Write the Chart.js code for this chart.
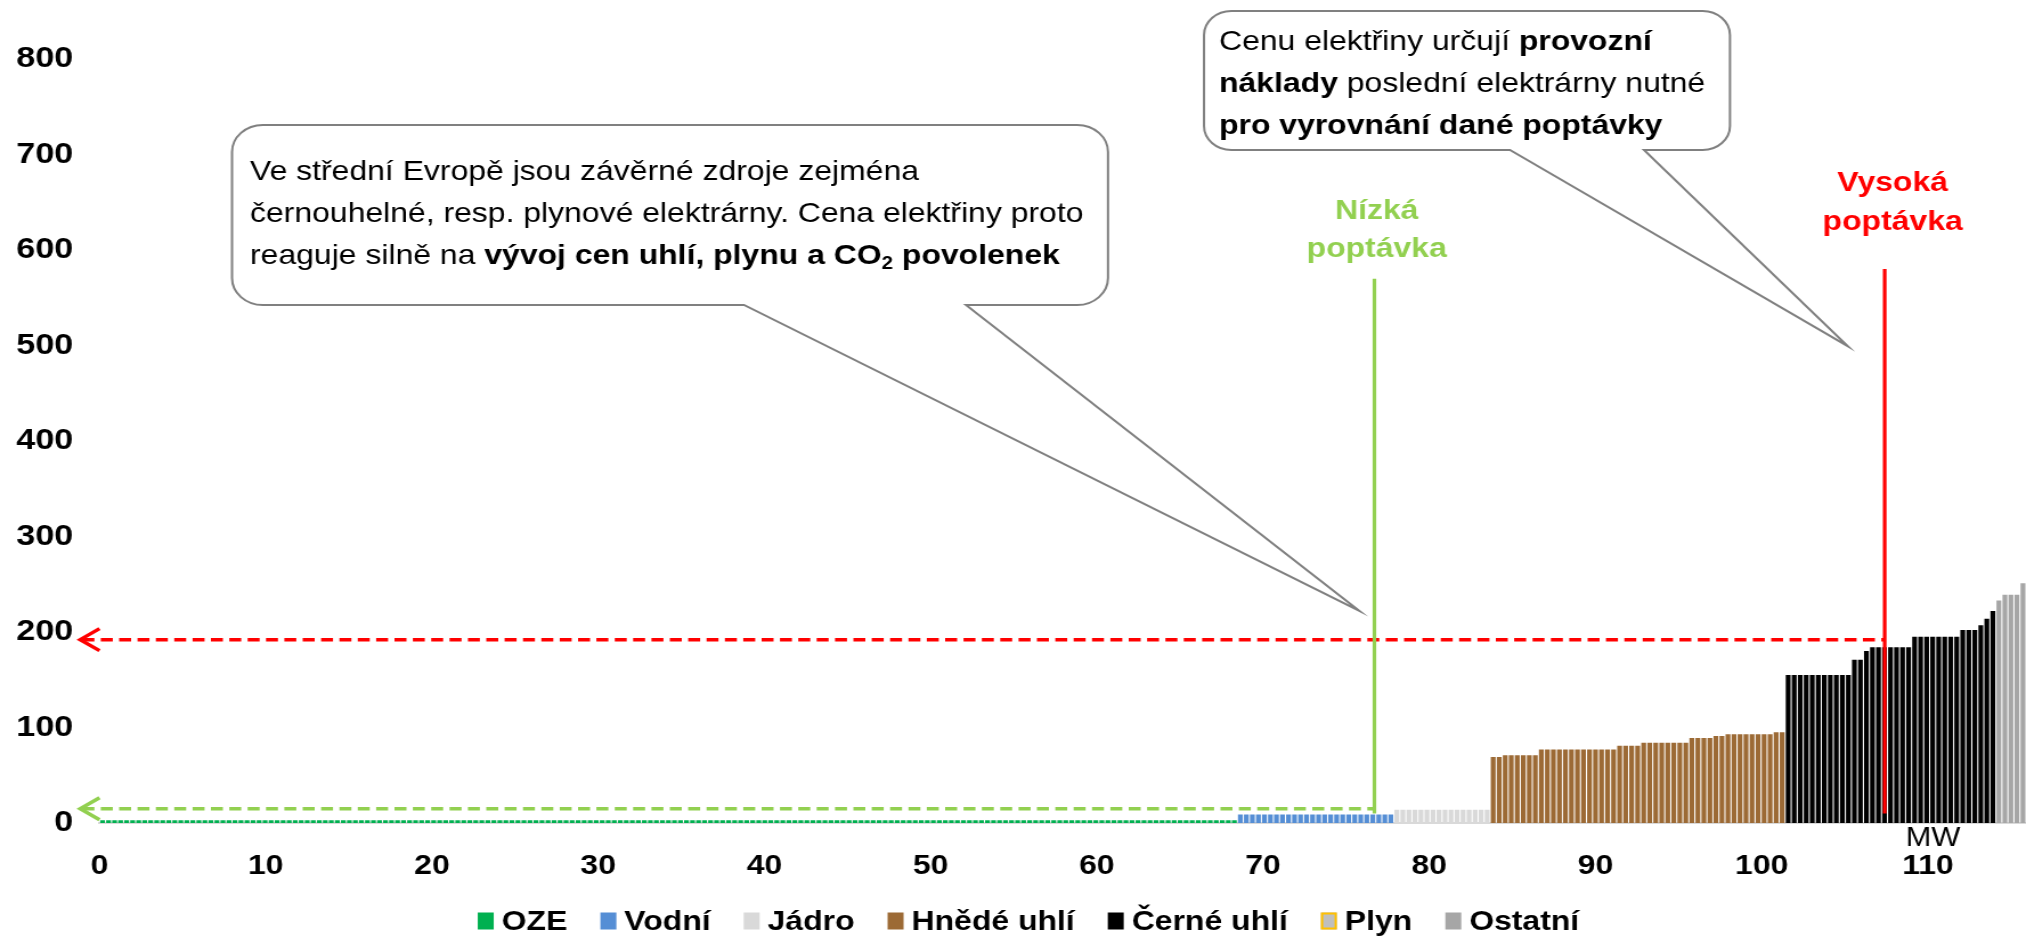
<!DOCTYPE html>
<html lang="cs">
<head>
<meta charset="utf-8">
<title>Merit order</title>
<script src="https://cdn.jsdelivr.net/npm/chart.js@4.4.1/dist/chart.umd.min.js"></script>
<style>
  html, body { margin: 0; padding: 0; background: #fff; overflow: hidden; }
  /* the source slide is stretched sideways, so the whole chart is too */
  #wrap { width: 1777px; height: 937px; transform: scaleX(1.1401); transform-origin: 0 0; }
</style>
</head>
<body>
<div id="wrap"><canvas id="meritChart"></canvas></div>
<script>
// price of each block (one bar = one block), in merit order
const ozePrices = [
  3,3,3,3,3,3,3,3,3,3,3,3,3,3,3,3,3,3,3,3,3,
  3,3,3,3,3,3,3,3,3,3,3,3,3,3,3,3,3,3,3,3,3,
  3,3,3,3,3,3,3,3,3,3,3,3,3,3,3,3,3,3,3,3,3,
  3,3,3,3,3,3,3,3,3,3,3,3,3,3,3,3,3,3,3,3,3,
  3,3,3,3,3,3,3,3,3,3,3,3,3,3,3,3,3,3,3,3,3,
  3,3,3,3,3,3,3,3,3,3,3,3,3,3,3,3,3,3,3,3,3,
  3,3,3,3,3,3,3,3,3,3,3,3,3,3,3,3,3,3,3,3,3,
  3,3,3,3,3,3,3,3,3,3,3,3,3,3,3,3,3,3,3,3,3,
  3,3,3,3,3,3,3,3,3,3,3,3,3,3,3,3,3,3,3,3,3
];
const vodniPrices = [
  9,9,9,9,9,9,9,9,9,9,9,9,9,
  9,9,9,9,9,9,9,9,9,9,9,9,9
];
const jadroPrices = [14,14,14,14,14,14,14,14,14,14,14,14,14,14,14,14];
const hnedePrices = [
  69,69,71,71,71,71,71,71,
  77,77,77,77,77,77,77,77,77,77,77,77,77,
  81,81,81,81,
  84,84,84,84,84,84,84,84,
  89,89,89,89,91,91,
  93,93,93,93,93,93,93,93,95,95
];
const cernePrices = [
  155,155,155,155,155,155,155,155,155,155,155,
  171,171,180,
  184,184,184,184,184,184,184,
  195,195,195,195,195,195,195,195,
  202,202,202,207,214,222
];
const plynPrices = [];
const ostatniPrices = [233,239,239,239,251];

const seriesNames = ['OZE', 'Vodní', 'Jádro', 'Hnědé uhlí', 'Černé uhlí', 'Plyn', 'Ostatní'];
const seriesFills = ['#00B050', '#558ED5', '#D9D9D9', '#9C6A35', '#000000', '#BFBFBF', '#A6A6A6'];

const mwMax = 115.9;
const mwStep = 10;
const priceMax = 800;
const priceStep = 100;

// demand levels and the resulting prices
const lowDemandMW = 76.7;
const highDemandMW = 107.4;
const lowPrice = 15;
const highPrice = 192;
const lowLineTop = 570;
const highLineTop = 580;
const demandLineBottom = 10;
// where the callout pointers end
const calloutTipLeft = { mw: 75.8, price: 222 };
const calloutTipRight = { mw: 105.2, price: 499 };

const FONT = '"Liberation Sans", Arial, sans-serif';
const S = 2026 / 1777; // horizontal stretch of the page

const segments = [ozePrices, vodniPrices, jadroPrices, hnedePrices, cernePrices, plynPrices, ostatniPrices];
const totalBars = segments.reduce((n, s) => n + s.length, 0);
const barLabels = Array.from({ length: totalBars }, (_, i) => String(i + 1));

let start = 0;
const datasets = segments.map((vals, k) => {
    const data = new Array(totalBars).fill(null);
    vals.forEach((v, i) => { data[start + i] = v; });
    start += vals.length;
    return {
        label: seriesNames[k],
        data: data,
        xAxisID: 'x',
        backgroundColor: seriesFills[k],
        borderColor: k === 5 ? '#FFC000' : seriesFills[k],
        borderWidth: k === 5 ? 2 : 0,
        grouped: false,
        barPercentage: 0.8,
        categoryPercentage: 1
    };
});

function drawRich(ctx, parts, x, y, size) {
    parts.forEach(p => {
        const sz = p.sub ? Math.round(size * 0.65) : size;
        ctx.font = (p.b ? 'bold ' : '') + sz + 'px ' + FONT;
        ctx.fillText(p.t, x, y + (p.sub ? size * 0.28 : 0));
        x += ctx.measureText(p.t).width;
    });
}

function callout(ctx, l, t, r, b, rad, baseA, baseB, tip) {
    ctx.beginPath();
    ctx.moveTo(l + rad, t);
    ctx.lineTo(r - rad, t);
    ctx.arcTo(r, t, r, t + rad, rad);
    ctx.lineTo(r, b - rad);
    ctx.arcTo(r, b, r - rad, b, rad);
    ctx.lineTo(baseB, b);
    ctx.lineTo(tip.x, tip.y);
    ctx.lineTo(baseA, b);
    ctx.lineTo(l + rad, b);
    ctx.arcTo(l, b, l, b - rad, rad);
    ctx.lineTo(l, t + rad);
    ctx.arcTo(l, t, l + rad, t, rad);
    ctx.closePath();
    ctx.fillStyle = '#ffffff';
    ctx.fill();
    ctx.lineWidth = 2;
    ctx.strokeStyle = '#808080';
    ctx.stroke();
}

function arrowLine(ctx, x0, x1, yv, color) {
    ctx.save();
    ctx.strokeStyle = color;
    ctx.lineWidth = 3.5;
    ctx.setLineDash([10.5, 5.6]);
    ctx.beginPath();
    ctx.moveTo(x0 + 2, yv);
    ctx.lineTo(x1, yv);
    ctx.stroke();
    ctx.setLineDash([]);
    ctx.beginPath();
    ctx.moveTo(x0 + 17, yv - 11);
    ctx.lineTo(x0, yv);
    ctx.lineTo(x0 + 17, yv + 11);
    ctx.stroke();
    ctx.restore();
}

const overlay = {
    id: 'overlay',
    afterDatasetsDraw(chart) {
        const { ctx, chartArea } = chart;
        const mw = chart.scales.mw;
        const y = chart.scales.y;
        const arrowX = chartArea.left - 17;

        // price arrows
        const gx = mw.getPixelForValue(lowDemandMW);
        const rx = mw.getPixelForValue(highDemandMW);
        arrowLine(ctx, arrowX, gx, y.getPixelForValue(lowPrice), '#92D050');
        arrowLine(ctx, arrowX, rx, y.getPixelForValue(highPrice), '#FF0000');

        // demand lines
        ctx.save();
        ctx.lineWidth = 3.2;
        ctx.strokeStyle = '#92D050';
        ctx.beginPath();
        ctx.moveTo(gx, y.getPixelForValue(lowLineTop));
        ctx.lineTo(gx, y.getPixelForValue(demandLineBottom));
        ctx.stroke();
        ctx.strokeStyle = '#FF0000';
        ctx.beginPath();
        ctx.moveTo(rx, y.getPixelForValue(highLineTop));
        ctx.lineTo(rx, y.getPixelForValue(demandLineBottom));
        ctx.stroke();

        ctx.textAlign = 'center';
        ctx.textBaseline = 'middle';
        ctx.font = 'bold 28px ' + FONT;
        const gTop = y.getPixelForValue(lowLineTop);
        ctx.fillStyle = '#92D050';
        ctx.fillText('Nízká', gx + 2, gTop - 67);
        ctx.fillText('poptávka', gx + 2, gTop - 29);
        const rTop = y.getPixelForValue(highLineTop);
        ctx.fillStyle = '#FF0000';
        ctx.fillText('Vysoká', rx + 7, rTop - 86);
        ctx.fillText('poptávka', rx + 7, rTop - 47);

        // axis unit
        ctx.fillStyle = '#000';
        ctx.font = '27px ' + FONT;
        ctx.fillText('MW', 1933 / S, 839);
        ctx.restore();

        // callouts
        ctx.save();
        const tipL = { x: mw.getPixelForValue(calloutTipLeft.mw), y: y.getPixelForValue(calloutTipLeft.price) };
        const tipR = { x: mw.getPixelForValue(calloutTipRight.mw), y: y.getPixelForValue(calloutTipRight.price) };
        callout(ctx, 232 / S, 125, 1108 / S, 305, 27, 744 / S, 966 / S, tipL);
        callout(ctx, 1204 / S, 11, 1730 / S, 150, 24, 1510 / S, 1644 / S, tipR);

        ctx.fillStyle = '#000';
        ctx.textAlign = 'left';
        ctx.textBaseline = 'middle';
        const fs = 28;
        const lx = 250 / S;
        drawRich(ctx, [{ t: 'Ve střední Evropě jsou závěrné zdroje zejména' }], lx, 172, fs);
        drawRich(ctx, [{ t: 'černouhelné, resp. plynové elektrárny. Cena elektřiny proto' }], lx, 214, fs);
        drawRich(ctx, [
            { t: 'reaguje silně na ' },
            { t: 'vývoj cen uhlí, plynu a CO', b: true },
            { t: '2', b: true, sub: true },
            { t: ' povolenek', b: true }
        ], lx, 256, fs);
        const rxText = 1219 / S;
        drawRich(ctx, [{ t: 'Cenu elektřiny určují ' }, { t: 'provozní', b: true }], rxText, 42, fs);
        drawRich(ctx, [{ t: 'náklady', b: true }, { t: ' poslední elektrárny nutné' }], rxText, 84, fs);
        drawRich(ctx, [{ t: 'pro vyrovnání dané poptávky', b: true }], rxText, 126, fs);
        ctx.restore();

        // legend
        ctx.save();
        ctx.font = 'bold 28px ' + FONT;
        ctx.textBaseline = 'middle';
        ctx.textAlign = 'left';
        const boxW = 14, boxH = 17, gapIn = 7, gapOut = 29;
        const items = chart.data.datasets;
        const widths = items.map(d => ctx.measureText(d.label).width);
        let total = 0;
        widths.forEach((w, i) => { total += boxW + gapIn + w + (i > 0 ? gapOut : 0); });
        let x = 1028.5 / S - total / 2;
        const yc = 921;
        items.forEach((d, i) => {
            ctx.fillStyle = d.backgroundColor;
            ctx.fillRect(x, yc - boxH / 2, boxW, boxH);
            if (d.borderWidth) {
                ctx.strokeStyle = d.borderColor;
                ctx.lineWidth = 2;
                ctx.strokeRect(x + 1, yc - boxH / 2 + 1, boxW - 2, boxH - 2);
            }
            ctx.fillStyle = '#000';
            ctx.fillText(d.label, x + boxW + gapIn, yc + 1);
            x += boxW + gapIn + widths[i] + gapOut;
        });
        ctx.restore();
    }
};

new Chart(document.getElementById('meritChart'), {
    type: 'bar',
    data: { labels: barLabels, datasets: datasets },
    options: {
        responsive: true,
        maintainAspectRatio: false,
        animation: false,
        layout: { padding: { top: 59, right: 0, bottom: 0, left: 0 } },
        plugins: {
            legend: { display: false },
            tooltip: { enabled: false }
        },
        scales: {
            x: { type: 'category', display: false, offset: true },
            mw: {
                type: 'linear',
                axis: 'x',
                position: 'bottom',
                offset: false,
                min: 0,
                max: mwMax,
                afterFit: s => { s.height = 114; },
                grid: { display: false, drawTicks: false },
                border: { color: '#D9D9D9', width: 2 },
                ticks: { stepSize: mwStep, includeBounds: false, padding: 26, color: '#000', font: { family: FONT, size: 28, weight: 'bold' }, maxRotation: 0, autoSkip: false }
            },
            y: {
                min: 0,
                max: priceMax,
                afterFit: s => { s.width = 87.3; },
                grid: { display: false, drawTicks: false },
                border: { display: false },
                ticks: { stepSize: priceStep, padding: 23, color: '#000', font: { family: FONT, size: 30, weight: 'bold' } }
            }
        }
    },
    plugins: [overlay]
});
</script>
</body>
</html>
